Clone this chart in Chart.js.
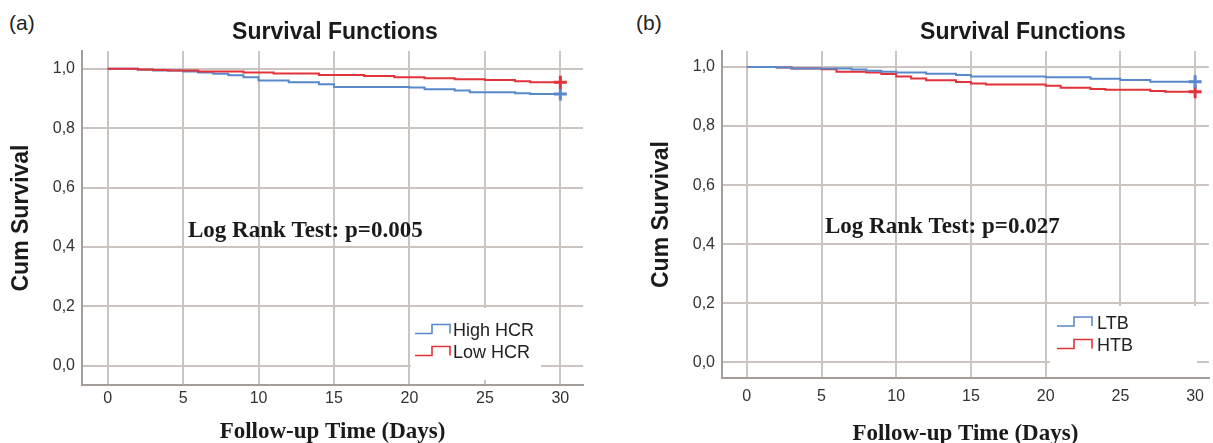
<!DOCTYPE html>
<html>
<head>
<meta charset="utf-8">
<script src="https://cdn.jsdelivr.net/npm/chart.js@4.4.1/dist/chart.umd.min.js"></script>
<style>
  html, body { margin: 0; padding: 0; background: #fff; overflow: hidden; }
  #wrap { position: relative; width: 1213px; height: 443px; }
  .panel { position: absolute; top: 0; }
  .tag { position: absolute; top: 11px; line-height: 24px; font: 21px Arial, "Liberation Sans", sans-serif; color: #222; }
</style>
</head>
<body>
<div id="wrap">
  <div class="tag" style="left:9px">(a)</div>
  <div class="tag" style="left:636px">(b)</div>
  <div class="panel" style="left:0"><canvas id="chartA" width="600" height="443"></canvas></div>
  <div class="panel" style="left:600px"><canvas id="chartB" width="613" height="443"></canvas></div>
</div>
<script>
// panel (a) - survival by HCR group
var daysHighHCR = [0, 2, 3, 5, 6, 7, 8, 9, 10, 12, 14, 15, 20, 21, 23, 24, 27, 28, 30];
var survHighHCR = [1.0, 0.997, 0.994, 0.991, 0.988, 0.983, 0.978, 0.972, 0.961, 0.955, 0.948, 0.939, 0.937, 0.931, 0.927, 0.921, 0.918, 0.915, 0.915];
var daysLowHCR = [0, 2, 3, 4, 6, 9, 11, 14, 17, 19, 21, 23, 25, 27, 28, 30];
var survLowHCR = [1.0, 0.998, 0.996, 0.994, 0.991, 0.988, 0.984, 0.979, 0.976, 0.972, 0.968, 0.965, 0.962, 0.958, 0.955, 0.955];

// panel (b) - survival by TB group
var daysLTB = [0, 2, 3, 7, 8, 9, 10, 12, 14, 15, 20, 23, 25, 27, 30];
var survLTB = [1.0, 0.998, 0.995, 0.991, 0.987, 0.984, 0.981, 0.977, 0.973, 0.968, 0.965, 0.960, 0.956, 0.950, 0.950];
var daysHTB = [0, 2, 3, 5, 6, 8, 9, 10, 11, 12, 14, 15, 16, 20, 21, 23, 24, 27, 28, 30];
var survHTB = [1.0, 0.998, 0.995, 0.992, 0.984, 0.981, 0.976, 0.968, 0.961, 0.955, 0.949, 0.944, 0.941, 0.936, 0.930, 0.925, 0.923, 0.919, 0.916, 0.916];

var xTicks = [0, 5, 10, 15, 20, 25, 30];
var yTicks = [0.0, 0.2, 0.4, 0.6, 0.8, 1.0];

var BLUE = '#5a89cb';
var RED = '#e2323a';
var SANS = 'Arial, "Liberation Sans", sans-serif';
var SERIF = '"Times New Roman", "Liberation Serif", serif';

function toPoints(days, surv) {
    var pts = [];
    for (var i = 0; i < days.length; i++) {
        pts.push({ x: days[i], y: surv[i] });
    }
    return pts;
}

// censor cross only on the last point
function censorRadius(ctx) {
    return ctx.dataIndex === ctx.dataset.data.length - 1 ? 6.5 : 0;
}

function makeSet(label, days, surv, color, order) {
    return {
        label: label,
        data: toPoints(days, surv),
        borderColor: color,
        backgroundColor: color,
        borderWidth: 2,
        stepped: true,
        fill: false,
        order: order,
        pointStyle: 'cross',
        pointRadius: censorRadius,
        pointBorderWidth: 3,
        pointBorderColor: color
    };
}

// title, log rank note and the boxed legend
var panelText = {
    id: 'panelText',
    afterDraw: function (chart, args, opts) {
        var ctx = chart.ctx;
        ctx.save();
        ctx.fillStyle = '#1a1a1a';
        ctx.textBaseline = 'middle';
        ctx.textAlign = 'center';
        ctx.font = 'bold 23px ' + SANS;
        ctx.fillText(opts.title, opts.titleX, opts.titleY);

        ctx.textAlign = 'left';
        ctx.font = 'bold 23px ' + SERIF;
        ctx.fillText(opts.note, opts.noteX, opts.noteY);

        var b = opts.box;
        ctx.fillStyle = '#ffffff';
        ctx.fillRect(b.left, b.top, b.right - b.left, b.bottom - b.top);

        var sets = chart.data.datasets;
        ctx.font = '18px ' + SANS;
        ctx.lineWidth = 1.6;
        for (var i = 0; i < sets.length; i++) {
            var y = opts.rowY[i];
            var x0 = opts.iconX;
            ctx.strokeStyle = sets[i].borderColor;
            ctx.beginPath();
            ctx.moveTo(x0, y + 2);
            ctx.lineTo(x0 + 17, y + 2);
            ctx.lineTo(x0 + 17, y - 7);
            ctx.lineTo(x0 + 35, y - 7);
            ctx.lineTo(x0 + 35, y + 2);
            ctx.stroke();
            ctx.fillStyle = '#222';
            ctx.fillText(sets[i].label, opts.textX, y);
        }
        ctx.restore();
    }
};

function makeOptions(cfg) {
    return {
        responsive: false,
        animation: false,
        layout: {
            autoPadding: false,
            padding: { left: cfg.padLeft, right: cfg.padRight, top: cfg.padTop, bottom: 0 }
        },
        plugins: {
            legend: { display: false },
            tooltip: { enabled: false },
            title: { display: false },
            panelText: cfg.text
        },
        scales: {
            x: {
                type: 'linear',
                min: cfg.xMin,
                max: cfg.xMax,
                afterFit: function (scale) { scale.height = cfg.xHeight; },
                afterBuildTicks: function (scale) {
                    scale.ticks = xTicks.map(function (v) { return { value: v }; });
                },
                grid: { color: '#ccc4c0', lineWidth: 2, drawTicks: false },
                border: { display: true, color: '#a59d99', width: 2 },
                ticks: {
                    padding: cfg.xTickPad,
                    color: '#333',
                    font: { family: SANS, size: 16 },
                    maxRotation: 0,
                    callback: function (v) { return String(v); }
                },
                title: {
                    display: true,
                    text: 'Follow-up Time (Days)',
                    color: '#1a1a1a',
                    font: { family: SERIF, size: 23, weight: 'bold', lineHeight: 1 },
                    padding: { top: 0, bottom: cfg.xTitlePad }
                }
            },
            y: {
                min: cfg.yMin,
                max: cfg.yMax,
                afterFit: function (scale) { scale.width = 82; },
                afterBuildTicks: function (scale) {
                    scale.ticks = yTicks.map(function (v) { return { value: v }; });
                },
                grid: { color: '#ccc4c0', lineWidth: 2, drawTicks: false },
                border: { display: true, color: '#a59d99', width: 2 },
                ticks: {
                    padding: 7,
                    color: '#333',
                    font: { family: SANS, size: 16 },
                    callback: function (v) { return v.toFixed(1).replace('.', ','); }
                },
                title: {
                    display: true,
                    text: 'Cum Survival',
                    color: '#1a1a1a',
                    font: { family: SANS, size: 23, weight: 'bold', lineHeight: 1.2 },
                    padding: { top: 8, bottom: 0 }
                }
            }
        }
    };
}

var chartA = new Chart(document.getElementById('chartA'), {
    type: 'line',
    data: {
        datasets: [
            makeSet('High HCR', daysHighHCR, survHighHCR, BLUE, 1),
            makeSet('Low HCR', daysLowHCR, survLowHCR, RED, 0)
        ]
    },
    options: makeOptions({
        padLeft: 0, padRight: 17, padTop: 51, xHeight: 58,
        xMin: -1.7, xMax: 31.5, yMin: -0.065, yMax: 1.06,
        xTickPad: 4, xTitlePad: -1,
        text: {
            title: 'Survival Functions', titleX: 335, titleY: 33,
            note: 'Log Rank Test: p=0.005', noteX: 188, noteY: 231,
            box: { left: 411, top: 308, right: 541, bottom: 380 },
            rowY: [331.5, 353.5], iconX: 415, textX: 453
        }
    }),
    plugins: [panelText]
});

var chartB = new Chart(document.getElementById('chartB'), {
    type: 'line',
    data: {
        datasets: [
            makeSet('LTB', daysLTB, survLTB, BLUE, 0),
            makeSet('HTB', daysHTB, survHTB, RED, 1)
        ]
    },
    options: makeOptions({
        padLeft: 40, padRight: 0, padTop: 51, xHeight: 65,
        xMin: -1.66, xMax: 30.92, yMin: -0.053, yMax: 1.054,
        xTickPad: 9, xTitlePad: -2.5,
        text: {
            title: 'Survival Functions', titleX: 423, titleY: 33,
            note: 'Log Rank Test: p=0.027', noteX: 225, noteY: 227,
            box: { left: 450, top: 306, right: 597, bottom: 377 },
            rowY: [324, 346.5], iconX: 457, textX: 497
        }
    }),
    plugins: [panelText]
});
</script>
</body>
</html>
